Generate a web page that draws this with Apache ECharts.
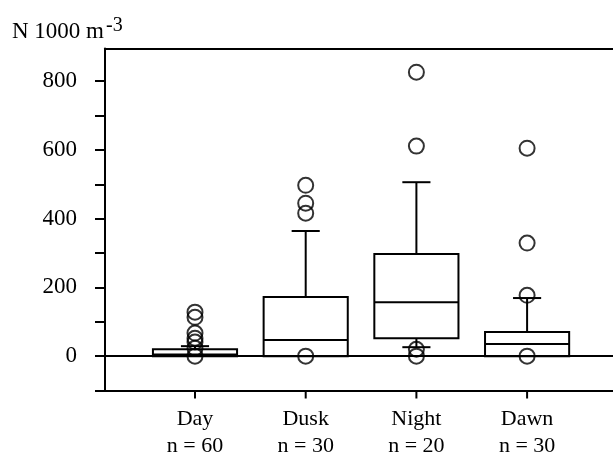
<!DOCTYPE html>
<html>
<head>
<meta charset="utf-8">
<script src="https://cdn.jsdelivr.net/npm/echarts@6/dist/echarts.min.js"></script>
<style>
html,body{margin:0;padding:0;background:#fff;}
#chart{width:613px;height:457px;}
</style>
</head>
<body>
<div id="chart"></div>
<script>
// ---- data ----
var categories = ['Day', 'Dusk', 'Night', 'Dawn'];
var counts = [60, 30, 20, 30];
var whiskerLow = [0, 0, 26, 0];
var q1 = [0, 0, 52, 0];
var median = [5, 47, 157, 35];
var q3 = [20, 172, 297, 70];
var whiskerHigh = [29, 364, 506, 169];
var outliersDay = [128, 113, 67, 52, 41, 23, 0];
var outliersDusk = [497, 445, 416, 0];
var outliersNight = [826, 611, 20, 0];
var outliersDawn = [605, 329, 177, 0];
var yTickValues = [-100, 0, 100, 200, 300, 400, 500, 600, 700, 800];
var yLabelValues = [0, 200, 400, 600, 800];
var xTickValues = [1, 2, 3, 4];

var FONT = '"Liberation Serif", "Times New Roman", serif';
var Y_MIN = -100, Y_MAX = 895;

var boxData = categories.map(function (c, i) {
  return [i + 1, whiskerLow[i], q1[i], median[i], q3[i], whiskerHigh[i]];
});
var outlierData = [];
[outliersDay, outliersDusk, outliersNight, outliersDawn].forEach(function (arr, i) {
  arr.forEach(function (v) { outlierData.push([i + 1, v]); });
});

var BOX_HALF = 0.38;   // in x units
var CAP_HALF = 0.127;

function renderBox(params, api) {
  var x = api.value(0);
  var lo = api.value(1), b1 = api.value(2), md = api.value(3), b3 = api.value(4), hi = api.value(5);
  var style = { stroke: '#000', lineWidth: 2, fill: 'none' };
  var pL = api.coord([x - BOX_HALF, b3]);
  var pR = api.coord([x + BOX_HALF, b1]);
  var children = [];
  children.push({ type: 'rect', shape: { x: pL[0], y: pL[1], width: pR[0] - pL[0], height: pR[1] - pL[1] }, style: style });
  var m1 = api.coord([x - BOX_HALF, md]), m2 = api.coord([x + BOX_HALF, md]);
  children.push({ type: 'line', shape: { x1: m1[0], y1: m1[1], x2: m2[0], y2: m2[1] }, style: style });
  var c = api.coord([x, 0])[0];
  if (hi > b3) {
    var a = api.coord([x, b3]), h = api.coord([x, hi]);
    children.push({ type: 'line', shape: { x1: c, y1: a[1], x2: c, y2: h[1] }, style: style });
    var k1 = api.coord([x - CAP_HALF, hi]), k2 = api.coord([x + CAP_HALF, hi]);
    children.push({ type: 'line', shape: { x1: k1[0], y1: k1[1], x2: k2[0], y2: k2[1] }, style: style });
  }
  if (lo < b1) {
    var a2 = api.coord([x, b1]), l = api.coord([x, lo]);
    children.push({ type: 'line', shape: { x1: c, y1: a2[1], x2: c, y2: l[1] }, style: style });
    var j1 = api.coord([x - CAP_HALF, lo]), j2 = api.coord([x + CAP_HALF, lo]);
    children.push({ type: 'line', shape: { x1: j1[0], y1: j1[1], x2: j2[0], y2: j2[1] }, style: style });
  }
  return { type: 'group', children: children };
}

var chart = echarts.init(document.getElementById('chart'));
chart.setOption({
  animation: false,
  backgroundColor: '#fff',
  title: {
    text: 'N 1000 m{sup|-3}',
    left: 7, top: 11,
    textStyle: {
      fontFamily: FONT, fontSize: 23, fontWeight: 'normal', color: '#000',
      rich: { sup: { fontFamily: FONT, fontSize: 20, color: '#000', verticalAlign: 'top', padding: [0, 0, 12, 2] } }
    }
  },
  grid: {
    left: 105, right: 0, top: 48.5, bottom: 66.5,
    outerBoundsMode: 'none', containLabel: false
  },
  xAxis: [{
    type: 'value', position: 'bottom', min: 0.187, max: 4.776,
    splitLine: { show: false },
    axisLine: { show: true, onZero: false, lineStyle: { color: '#000', width: 2 } },
    axisTick: { show: false },
    axisLabel: {
      customValues: xTickValues,
      margin: 15,
      fontFamily: FONT, fontSize: 22, color: '#000', lineHeight: 27,
      formatter: function (v) {
        var i = Math.round(v) - 1;
        return categories[i] + '\n' + 'n = ' + counts[i];
      }
    }
  }, {
    type: 'value', position: 'top', min: 0.187, max: 4.776,
    splitLine: { show: false },
    axisLine: { show: true, onZero: false, lineStyle: { color: '#000', width: 2 } },
    axisTick: { show: false },
    axisLabel: { show: false }
  }],
  yAxis: {
    type: 'value', min: Y_MIN, max: Y_MAX, interval: 100,
    splitLine: { show: false },
    axisLine: { show: true, onZero: false, lineStyle: { color: '#000', width: 2 } },
    axisTick: { show: true, customValues: yTickValues, length: 10, lineStyle: { color: '#000', width: 2 } },
    axisLabel: {
      customValues: yLabelValues,
      margin: 28,
      fontFamily: FONT, fontSize: 23, color: '#000'
    }
  },
  series: [
    {
      type: 'custom',
      renderItem: renderBox,
      data: boxData,
      encode: { x: 0, y: [1, 2, 3, 4, 5] },
      clip: false,
      silent: true,
      markLine: {
        silent: true, symbol: 'none',
        label: { show: false },
        lineStyle: { color: '#000', width: 2, type: 'solid' },
        data: [{ yAxis: 0 }]
      }
    },
    {
      type: 'scatter',
      data: outlierData,
      symbol: 'circle',
      symbolSize: 15,
      itemStyle: { color: 'rgba(255,255,255,0)', borderColor: '#000', borderWidth: 2 },
      silent: true
    }
  ]
});

// category ticks below the bottom axis, positioned through the chart's own scales
var tickGraphics = xTickValues.map(function (v) {
  var p = chart.convertToPixel({ gridIndex: 0 }, [v, Y_MIN]);
  return {
    type: 'line',
    silent: true,
    z: 100,
    shape: { x1: p[0], y1: p[1], x2: p[0], y2: p[1] + 8 },
    style: { stroke: '#000', lineWidth: 2 }
  };
});
chart.setOption({ graphic: tickGraphics });
</script>
</body>
</html>
